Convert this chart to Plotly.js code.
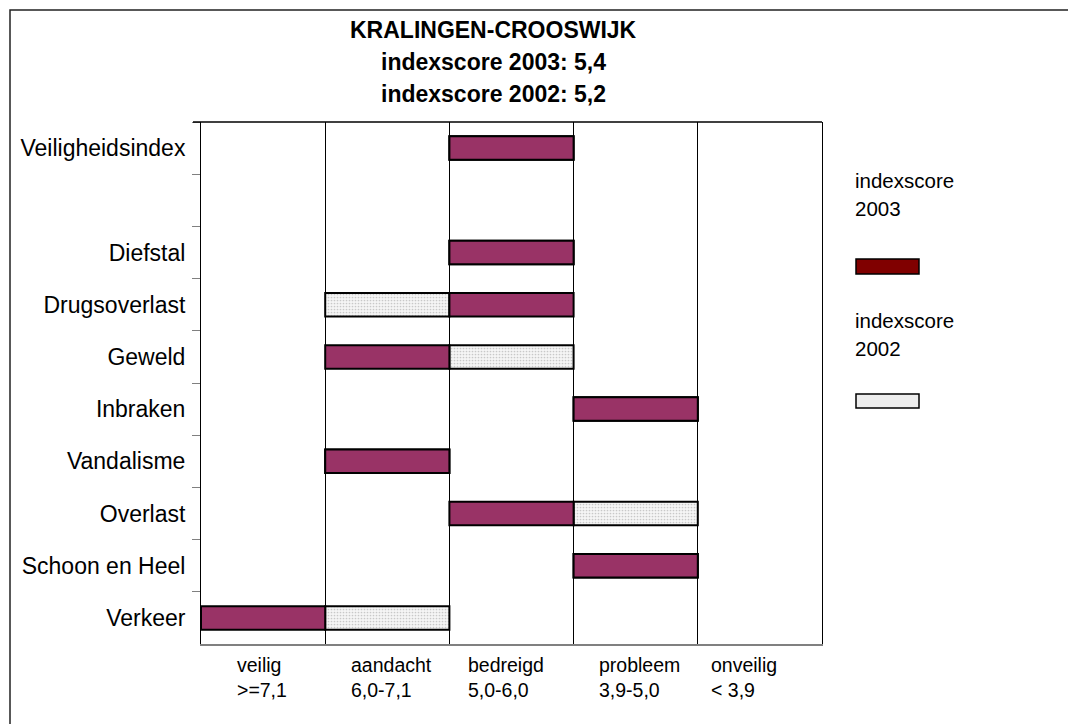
<!DOCTYPE html>
<html>
<head>
<meta charset="utf-8">
<script src="https://cdn.plot.ly/plotly-3.0.1.min.js"></script>
<style>
  html, body { margin: 0; padding: 0; background: #ffffff; }
  #chart { width: 1068px; height: 724px; }
</style>
</head>
<body>
<div id="chart"></div>
<script>
// ---- data ----
const categories = ['Veiligheidsindex', ' ', 'Diefstal', 'Drugsoverlast', 'Geweld', 'Inbraken', 'Vandalisme', 'Overlast', 'Schoon en Heel', 'Verkeer'];
// class index: 0 veilig, 1 aandacht, 2 bedreigd, 3 probleem, 4 onveilig
const class2003 = [2, null, 2, 2, 1, 3, 1, 2, 3, 0];
const class2002 = [2, null, 2, 1, 2, 3, 1, 3, 3, 1];
const classNames = ['veilig', 'aandacht', 'bedreigd', 'probleem', 'onveilig'];
const classRanges = ['&gt;=7,1', '6,0-7,1', '5,0-6,0', '3,9-5,0', '&lt; 3,9'];
const titleLines = ['KRALINGEN-CROOSWIJK', 'indexscore 2003: 5,4', 'indexscore 2002: 5,2'];
const seriesNames = ['indexscore 2003', 'indexscore 2002'];
const legendLines = [['indexscore', '2003'], ['indexscore', '2002']];

// ---- layout helpers ----
const FONT = 'Liberation Sans, Arial, sans-serif';
const L = 201, R = 822, T = 122, B = 644;
const px = v => (v - L) / (R - L);
const py = v => (B - v) / (B - T);

const trace2002 = {
  type: 'bar', orientation: 'h', name: seriesNames[1],
  y: categories,
  x: class2002.map(c => c === null ? null : 1),
  base: class2002,
  width: 0.45,
  marker: {
    color: '#f5f5f5',
    line: { color: '#000000', width: 2 },
    pattern: { shape: '.', fgcolor: '#c8c8c8', bgcolor: '#f5f5f5', size: 3, solidity: 0.25 }
  },
  hoverinfo: 'skip', showlegend: false
};
const trace2003 = {
  type: 'bar', orientation: 'h', name: seriesNames[0],
  y: categories,
  x: class2003.map(c => c === null ? null : 1),
  base: class2003,
  width: 0.45,
  marker: { color: '#993366', line: { color: '#000000', width: 2 } },
  hoverinfo: 'skip', showlegend: false
};

const annotations = [];
// title lines
const titleCenters = [30, 62, 94];
titleLines.forEach((t, i) => {
  annotations.push({
    text: '<b>' + t + '</b>', xref: 'paper', yref: 'paper',
    x: px(493), y: 1, xanchor: 'center', yanchor: 'middle',
    yshift: T - titleCenters[i], showarrow: false,
    font: { family: FONT, size: 23, color: '#000000' }
  });
});
// x category labels
const labelOffsets = [0.27, 0.19, 0.13, 0.19, 0.09];
classNames.forEach((n, i) => {
  annotations.push({
    text: n + '<br>' + classRanges[i], xref: 'x', yref: 'paper',
    x: i + labelOffsets[i], y: 0, xanchor: 'left', yanchor: 'top', align: 'left',
    yshift: -8, showarrow: false,
    font: { family: FONT, size: 19.5, color: '#000000' }
  });
});
// legend texts
const legendTextCenters = [[180, 208], [320, 348]];
legendLines.forEach((lines, k) => {
  lines.forEach((t, j) => {
    annotations.push({
      text: t, xref: 'paper', yref: 'paper',
      x: px(853), y: 1, xanchor: 'left', yanchor: 'middle',
      yshift: T - legendTextCenters[k][j], showarrow: false,
      font: { family: FONT, size: 20.5, color: '#000000' }
    });
  });
});

const shapes = [
  // outer frame
  { type: 'rect', xref: 'paper', yref: 'paper', x0: px(10), x1: px(1075), y0: py(10), y1: py(730),
    line: { color: '#222222', width: 1.5 }, fillcolor: 'rgba(0,0,0,0)', layer: 'below' },
  // top border of plot area
  { type: 'line', xref: 'paper', yref: 'paper', x0: px(193), x1: 1, y0: 1, y1: 1,
    line: { color: '#000000', width: 1.5 } },
  // legend swatches
  { type: 'rect', xref: 'paper', yref: 'paper', x0: px(856), x1: px(919), y0: py(274), y1: py(259),
    fillcolor: '#800000', line: { color: '#000000', width: 1.5 } },
  { type: 'rect', xref: 'paper', yref: 'paper', x0: px(856), x1: px(919), y0: py(408), y1: py(394),
    fillcolor: '#ededed', line: { color: '#000000', width: 1.5 } }
];

const layout = {
  width: 1068, height: 724,
  margin: { l: L, r: 1068 - R, t: T, b: 724 - B, pad: 0 },
  paper_bgcolor: '#ffffff', plot_bgcolor: '#ffffff',
  barmode: 'overlay',
  showlegend: false,
  hovermode: false,
  font: { family: FONT, color: '#000000' },
  xaxis: {
    range: [0, 5], tickvals: [0, 1, 2, 3, 4, 5], showticklabels: false, ticks: '',
    showgrid: true, gridcolor: '#000000', gridwidth: 1, zeroline: false,
    showline: true, linecolor: '#808080', linewidth: 2, fixedrange: true
  },
  yaxis: {
    type: 'category', categoryorder: 'array', categoryarray: categories,
    autorange: 'reversed', tickson: 'boundaries', ticks: 'outside', ticklen: 8,
    tickcolor: '#808080', tickwidth: 1, showgrid: false, zeroline: false,
    showline: true, linecolor: '#000000', linewidth: 1, mirror: true,
    ticklabelstandoff: 10,
    tickfont: { family: FONT, size: 23, color: '#000000' }, fixedrange: true
  },
  annotations: annotations,
  shapes: shapes
};

Plotly.newPlot('chart', [trace2002, trace2003], layout, { staticPlot: true, displayModeBar: false });
</script>
</body>
</html>
